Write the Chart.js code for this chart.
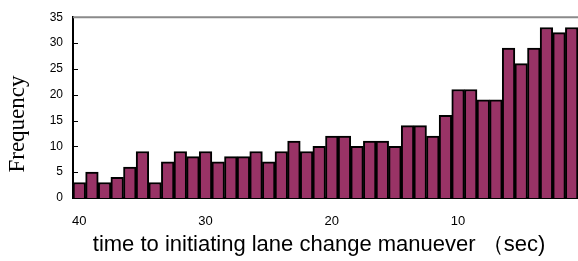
<!DOCTYPE html>
<html lang="en">
<head>
    <meta charset="UTF-8">
    <title>Frequency histogram</title>
    <script src="https://cdn.jsdelivr.net/npm/chart.js"></script>
    <style>
        html, body { margin: 0; padding: 0; background: #fff; }
        .chart-container { width: 578px; height: 261px; }
    </style>
</head>
<body>
    <div class="chart-container">
        <canvas id="histChart"></canvas>
    </div>

    <script>
        // seconds before lane change (bin centres, 40 down to 1)
        const seconds = [40, 39, 38, 37, 36, 35, 34, 33, 32, 31,
                         30, 29, 28, 27, 26, 25, 24, 23, 22, 21,
                         20, 19, 18, 17, 16, 15, 14, 13, 12, 11,
                         10, 9, 8, 7, 6, 5, 4, 3, 2, 1];
        const frequency = [3, 5, 3, 4, 6, 9, 3, 7, 9, 8,
                           9, 7, 8, 8, 9, 7, 9, 11, 9, 10,
                           12, 12, 10, 11, 11, 10, 14, 14, 12, 16,
                           21, 21, 19, 19, 29, 26, 29, 33, 32, 33];
        const xTickLabels = [40, 30, 20, 10];
        const yTicks = [0, 5, 10, 15, 20, 25, 30, 35];

        const xTitle = 'time to initiating lane change manuever \uFF08sec)';
        const yTitle = 'Frequency';

        // small inward ticks on y axis, grey top line, axis titles
        const decorations = {
            id: 'decorations',
            afterDraw(chart) {
                const ctx = chart.ctx;
                const area = chart.chartArea;
                const y = chart.scales.y;
                ctx.save();
                ctx.strokeStyle = '#000';
                ctx.lineWidth = 1;
                yTicks.forEach(v => {
                    const py = Math.round(y.getPixelForValue(v)) + 0.5;
                    ctx.beginPath();
                    ctx.moveTo(area.left, py);
                    ctx.lineTo(area.left + 5, py);
                    ctx.stroke();
                });
                ctx.strokeStyle = '#8a8a8a';
                ctx.lineWidth = 2;
                ctx.beginPath();
                ctx.moveTo(area.left, area.top);
                ctx.lineTo(area.right, area.top);
                ctx.stroke();

                ctx.fillStyle = '#000';
                ctx.font = '22px "Liberation Sans", Arial, sans-serif';
                ctx.textAlign = 'center';
                ctx.textBaseline = 'middle';
                ctx.fillText(xTitle, 319, 245);

                ctx.translate(18, 124);
                ctx.rotate(-Math.PI / 2);
                ctx.font = '23px "Liberation Serif", "Times New Roman", serif';
                ctx.fillText(yTitle, 0, 0);
                ctx.restore();
            }
        };

        const ctx = document.getElementById('histChart').getContext('2d');
        new Chart(ctx, {
            type: 'bar',
            data: {
                labels: seconds,
                datasets: [{
                    data: frequency,
                    backgroundColor: '#993366',
                    borderColor: '#000',
                    borderWidth: 2,
                    barPercentage: 1,
                    categoryPercentage: 1
                }]
            },
            options: {
                responsive: true,
                maintainAspectRatio: false,
                animation: false,
                layout: { padding: { top: 15, right: 0, left: 0, bottom: 0 } },
                plugins: {
                    legend: { display: false },
                    tooltip: { enabled: false }
                },
                scales: {
                    x: {
                        grid: { display: false },
                        border: { display: true, color: '#000', width: 2 },
                        ticks: {
                            autoSkip: false,
                            maxRotation: 0,
                            padding: 8,
                            color: '#000',
                            font: { family: '"Liberation Sans", Arial, sans-serif', size: 13 },
                            callback: function (value, index) {
                                const s = seconds[index];
                                return xTickLabels.includes(s) ? String(s) : '';
                            }
                        },
                        afterFit(scale) {
                            scale.height = 63;
                            scale.paddingLeft = 0;
                            scale.paddingRight = 0;
                        }
                    },
                    y: {
                        min: 0,
                        max: 35,
                        grid: { display: false, drawTicks: false },
                        border: { display: true, color: '#000', width: 2 },
                        ticks: {
                            stepSize: 5,
                            padding: 10,
                            color: '#000',
                            font: { family: '"Liberation Sans", Arial, sans-serif', size: 12 }
                        },
                        afterFit(scale) { scale.width = 73; }
                    }
                }
            },
            plugins: [decorations]
        });
    </script>
</body>
</html>
